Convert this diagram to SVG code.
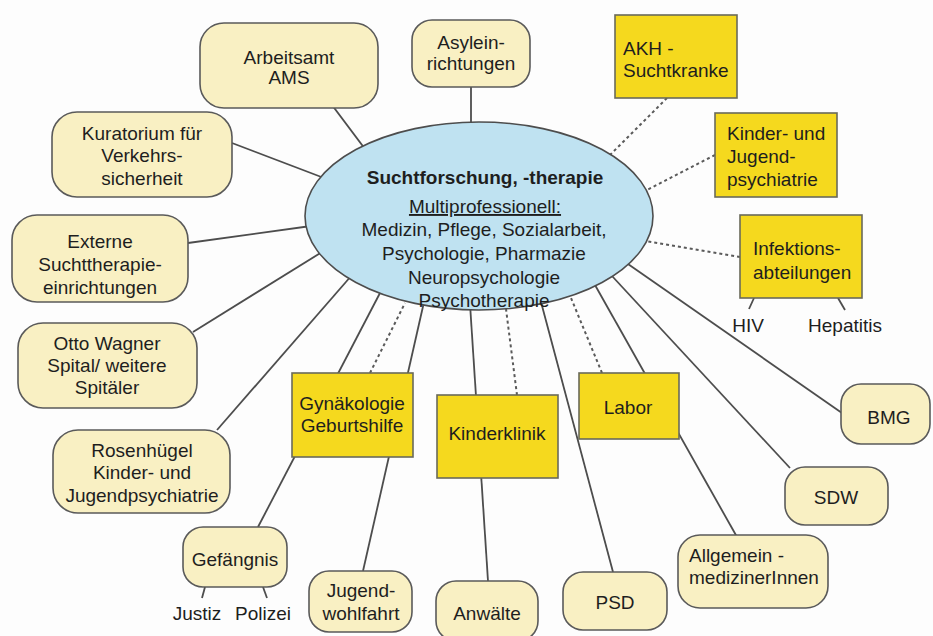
<svg xmlns="http://www.w3.org/2000/svg" width="933" height="636" viewBox="0 0 933 636">
<style>
.bg{fill:#fdfdfd}
.c{stroke:#4d4d4d;stroke-width:1.8;fill:none}
.d{stroke:#5a5a5a;stroke-width:2;fill:none;stroke-dasharray:3 3}
.r{fill:#f9f0c3;stroke:#5a5a5a;stroke-width:1.6}
.y{fill:#f5d91e;stroke:#6a6a5a;stroke-width:1.6}
.e{fill:#bfe2f1;stroke:#4d4d4d;stroke-width:1.6}
text{font-family:"Liberation Sans",Arial,sans-serif;font-size:19px;fill:#1e1e1e}
.m{text-anchor:middle}
.b{font-weight:bold}
</style>
<rect class="bg" width="933" height="636"/>
<g id="connectors">
<line class="c" x1="323" y1="93" x2="365" y2="149"/>
<line class="c" x1="471" y1="87" x2="471" y2="126"/>
<line class="c" x1="232" y1="143" x2="324" y2="178"/>
<line class="c" x1="188" y1="243" x2="311" y2="226"/>
<line class="c" x1="193" y1="332" x2="322" y2="252"/>
<line class="c" x1="217" y1="430" x2="352" y2="275"/>
<line class="c" x1="258" y1="527" x2="380" y2="293"/>
<line class="c" x1="363" y1="571" x2="424" y2="302"/>
<line class="c" x1="488" y1="581" x2="470" y2="304"/>
<line class="c" x1="613" y1="572" x2="541" y2="302"/>
<line class="c" x1="737" y1="537" x2="595" y2="285"/>
<line class="c" x1="790" y1="468" x2="612" y2="276"/>
<line class="c" x1="842" y1="413" x2="628" y2="264"/>
<line class="d" x1="667" y1="98" x2="606" y2="159"/>
<line class="d" x1="715" y1="155" x2="643" y2="192"/>
<line class="d" x1="740" y1="257" x2="646" y2="241"/>
<line class="d" x1="370" y1="373" x2="405" y2="303"/>
<line class="d" x1="517" y1="395" x2="506" y2="309"/>
<line class="d" x1="602" y1="373" x2="571" y2="298"/>
<line class="c" x1="754" y1="298" x2="749" y2="309"/>
<line class="c" x1="838" y1="298" x2="845" y2="310"/>
<line class="c" x1="205" y1="587" x2="202" y2="598"/>
<line class="c" x1="263" y1="587" x2="267" y2="598"/>
</g>
<g id="center">
<ellipse class="e" cx="479" cy="216" rx="174" ry="94"/>
<text class="m b" x="485" y="184">Suchtforschung, -therapie</text>
<text class="m" x="485" y="213" text-decoration="underline">Multiprofessionell:</text>
<text class="m" x="484" y="236">Medizin, Pflege, Sozialarbeit,</text>
<text class="m" x="484" y="260">Psychologie, Pharmazie</text>
<text class="m" x="484" y="284">Neuropsychologie</text>
<text class="m" x="484" y="307">Psychotherapie</text>
</g>
<g id="arbeitsamt"><rect class="r" x="200" y="23" width="178" height="85" rx="24"/>
<text class="m" x="289" y="64">Arbeitsamt</text><text class="m" x="289" y="84">AMS</text></g>
<g id="asyl"><rect class="r" x="412" y="20" width="118" height="67" rx="20"/>
<text class="m" x="471" y="49">Asylein-</text><text class="m" x="471" y="70">richtungen</text></g>
<g id="kuratorium"><rect class="r" x="52" y="112" width="180" height="85" rx="25"/>
<text class="m" x="142" y="140">Kuratorium für</text><text class="m" x="142" y="162">Verkehrs-</text><text class="m" x="142" y="185">sicherheit</text></g>
<g id="externe"><rect class="r" x="12" y="215" width="176" height="87" rx="25"/>
<text class="m" x="100" y="248">Externe</text><text class="m" x="100" y="271">Suchttherapie-</text><text class="m" x="100" y="294">einrichtungen</text></g>
<g id="otto"><rect class="r" x="18" y="323" width="179" height="85" rx="25"/>
<text class="m" x="107" y="350">Otto Wagner</text><text class="m" x="107" y="372">Spital/ weitere</text><text class="m" x="107" y="394">Spitäler</text></g>
<g id="rosenhuegel"><rect class="r" x="53" y="430" width="177" height="83" rx="25"/>
<text class="m" x="142" y="457">Rosenhügel</text><text class="m" x="142" y="479">Kinder- und</text><text class="m" x="142" y="502">Jugendpsychiatrie</text></g>
<g id="gefaengnis"><rect class="r" x="183" y="527" width="104" height="60" rx="20"/>
<text class="m" x="235" y="566">Gefängnis</text></g>
<g id="justiz"><text class="m" x="197" y="620">Justiz</text></g>
<g id="polizei"><text class="m" x="263" y="620">Polizei</text></g>
<g id="jugendwohlfahrt"><rect class="r" x="309" y="571" width="103" height="61" rx="20"/>
<text class="m" x="361" y="597">Jugend-</text><text class="m" x="361" y="620">wohlfahrt</text></g>
<g id="anwaelte"><rect class="r" x="436" y="581" width="102" height="60" rx="20"/>
<text class="m" x="487" y="620">Anwälte</text></g>
<g id="psd"><rect class="r" x="563" y="572" width="104" height="58" rx="20"/>
<text class="m" x="615" y="609">PSD</text></g>
<g id="allgemein"><rect class="r" x="678" y="535" width="150" height="73" rx="22"/>
<text x="689" y="562">Allgemein -</text><text x="689" y="584">medizinerInnen</text></g>
<g id="sdw"><rect class="r" x="785" y="467" width="103" height="58" rx="20"/>
<text class="m" x="836" y="504">SDW</text></g>
<g id="bmg"><rect class="r" x="841" y="384" width="89" height="60" rx="20"/>
<text class="m" x="889" y="424">BMG</text></g>
<g id="akh"><rect class="y" x="615" y="15" width="122" height="83"/>
<text x="623" y="55">AKH -</text><text x="623" y="77">Suchtkranke</text></g>
<g id="kjp"><rect class="y" x="715" y="113" width="122" height="84"/>
<text x="727" y="140">Kinder- und</text><text x="727" y="163">Jugend-</text><text x="727" y="186">psychiatrie</text></g>
<g id="infektion"><rect class="y" x="740" y="215" width="122" height="83"/>
<text x="753" y="255">Infektions-</text><text x="753" y="279">abteilungen</text></g>
<g id="hiv"><text class="m" x="748" y="332">HIV</text></g>
<g id="hepatitis"><text class="m" x="845" y="332">Hepatitis</text></g>
<g id="gyn"><rect class="y" x="292" y="373" width="121" height="84"/>
<text class="m" x="352" y="410">Gynäkologie</text><text class="m" x="352" y="432">Geburtshilfe</text></g>
<g id="kinderklinik"><rect class="y" x="437" y="395" width="121" height="83"/>
<text class="m" x="497" y="440">Kinderklinik</text></g>
<g id="labor"><rect class="y" x="579" y="373" width="100" height="66"/>
<text class="m" x="628" y="414">Labor</text></g>
</svg>
